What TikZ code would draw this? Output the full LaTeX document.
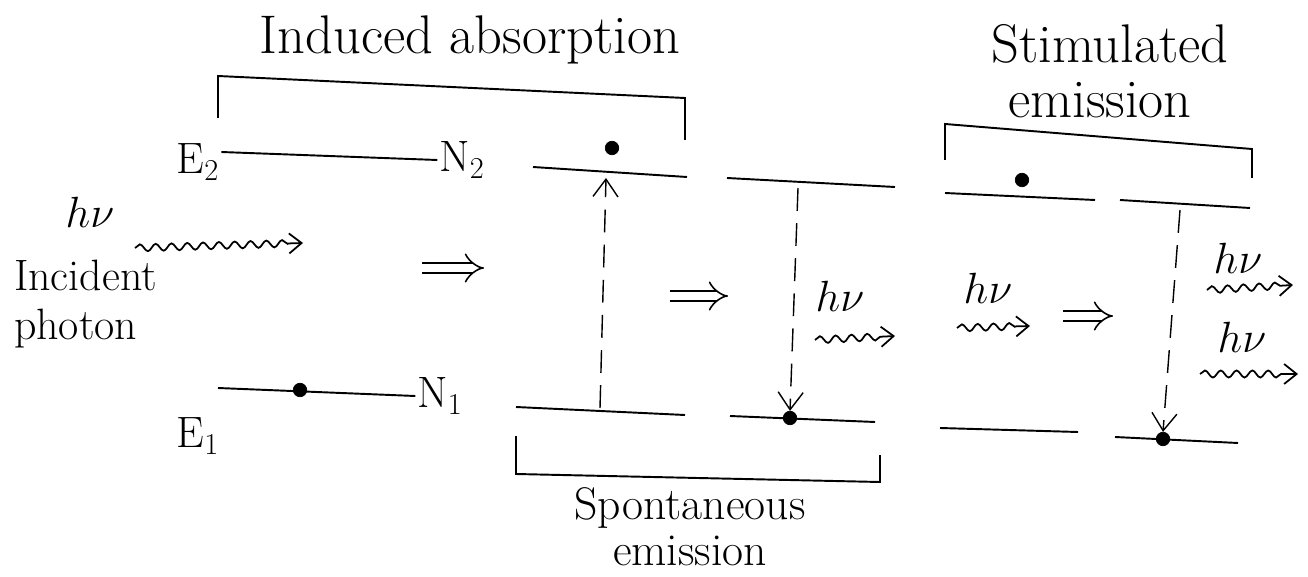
\documentclass[tikz,border=0pt]{standalone}
\usetikzlibrary{arrows.meta,decorations.pathmorphing}
\tikzset{
  handtext/.style={font=\fontsize{25}{28}\selectfont,inner sep=1pt},
  titletext/.style={font=\fontsize{31}{34}\selectfont,inner sep=0pt},
  level/.style={line width=1.1pt},
  bracket/.style={line width=1.1pt},
  electron/.style={circle,fill=black,draw=black,inner sep=0pt,minimum size=0.27cm},
  transition/.style={dash pattern=on 13pt off 7pt,line width=0.8pt,-{Straight Barb[length=3.5mm,width=5mm]}},
  photon/.style={decorate,decoration={snake,amplitude=2pt,segment length=9pt,post length=6pt},line width=1pt,-{Straight Barb[length=2.5mm,width=4mm]}},
  stepto/.style={double,double distance=5pt,line width=0.9pt,-{Implies}}
}
\begin{document}
\begin{tikzpicture}[x=0.02cm,y=-0.02cm]
  \useasboundingbox (0,0) rectangle (1308,577);

  % headings
  \node[titletext] (tabs) at (470,40) {Induced absorption};
  \node[titletext] (tstim) at (1110,44) {Stimulated};
  \node[titletext] (tstime) at (1100,100) {emission};
  \node[titletext,font=\fontsize{26}{26}\selectfont,align=center,anchor=south] (tspon) at (690,566) {Spontaneous\\emission};

  % brackets
  \draw[bracket] (218,118) -- (218,76) -- (685,98) -- (685,140);
  \draw[bracket] (945,160) -- (945,124) -- (1252,149) -- (1252,178);
  \draw[bracket] (516,436) -- (516,474) -- (880,482) -- (880,455);

  % energy levels
  \node[handtext] (E2) at (198,162) {E$_2$};
  \node[handtext] (N2) at (462,160) {N$_2$};
  \node[handtext] (E1) at (198,436) {E$_1$};
  \node[handtext] (N1) at (440,396) {N$_1$};
  \draw[level] (E2.east) ++(0,-10) coordinate (u1a) -- (N2.west) coordinate (u1b);
  \coordinate (l1a) at (218,388); \draw[level] (l1a) -- (N1.west);
  \coordinate (u2a) at (533,167); \coordinate (u2b) at (687,177);
  \coordinate (l2a) at (516,407); \coordinate (l2b) at (685,415);
  \coordinate (u3a) at (727,178); \coordinate (u3b) at (895,187);
  \coordinate (l3a) at (730,416); \coordinate (l3b) at (875,422);
  \coordinate (u4a) at (945,193); \coordinate (u4b) at (1095,200);
  \coordinate (l4a) at (940,428); \coordinate (l4b) at (1078,432);
  \coordinate (u5a) at (1120,200); \coordinate (u5b) at (1250,208);
  \coordinate (l5a) at (1115,437); \coordinate (l5b) at (1238,443);
  \foreach \a/\b in {u2a/u2b,l2a/l2b,u3a/u3b,l3a/l3b,u4a/u4b,l4a/l4b,u5a/u5b,l5a/l5b}
    \draw[level] (\a) -- (\b);

  % electrons
  \node[electron] (d1) at (300,390) {};
  \node[electron] (d2) at (612,148) {};
  \node[electron] (d3) at (790,418) {};
  \node[electron] (d4) at (1022,180) {};
  \node[electron] (d5) at (1163,439) {};

  % transitions
  \coordinate (t1s) at (600,408);
  \coordinate (t1e) at (606,178);
  \draw[transition] (t1s) -- (t1e);
  \coordinate (t2s) at (798,188);
  \draw[transition] (t2s) -- (d3.north);
  \coordinate (t3s) at (1180,210);
  \draw[transition] (t3s) -- (d5.north);

  % photons
  \node[handtext] (hv0) at (90,212) {$h\nu$};
  \node[handtext,align=left,anchor=north west] (inc) at (12,258) {Incident\\photon};
  \coordinate (p0a) at (135,248); \coordinate (p0b) at (303,243);
  \draw[photon] (p0a) -- (p0b);
  \node[handtext] (hv1) at (840,296) {$h\nu$};
  \coordinate (p1a) at (815,340); \coordinate (p1b) at (895,336);
  \draw[photon] (p1a) -- (p1b);
  \node[handtext] (hv2) at (988,288) {$h\nu$};
  \coordinate (p2a) at (957,328); \coordinate (p2b) at (1030,326);
  \draw[photon] (p2a) -- (p2b);
  \node[handtext] (hv3) at (1238,258) {$h\nu$};
  \coordinate (p3a) at (1207,290); \coordinate (p3b) at (1293,285);
  \draw[photon] (p3a) -- (p3b);
  \node[handtext] (hv4) at (1242,337) {$h\nu$};
  \coordinate (p4a) at (1200,374); \coordinate (p4b) at (1298,374);
  \draw[photon] (p4a) -- (p4b);

  % steps
  \coordinate (s1a) at (422,268); \coordinate (s1b) at (484,268);
  \draw[stepto] (s1a) -- (s1b);
  \coordinate (s2a) at (670,296); \coordinate (s2b) at (728,296);
  \draw[stepto] (s2a) -- (s2b);
  \coordinate (s3a) at (1063,316); \coordinate (s3b) at (1113,316);
  \draw[stepto] (s3a) -- (s3b);
\end{tikzpicture}
\end{document}
